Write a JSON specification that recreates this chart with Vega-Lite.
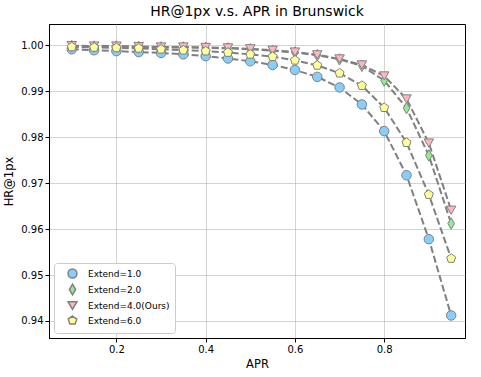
{
  "$schema": "https://vega.github.io/schema/vega-lite/v6.json",
  "width": 416,
  "height": 314,
  "autosize": {"type": "none"},
  "padding": {"left": 49, "top": 24, "right": 16, "bottom": 39},
  "config": {
    "font": "DejaVu Sans",
    "view": {"stroke": "black", "strokeWidth": 1},
    "axis": {
      "labelFont": "DejaVu Sans", "titleFont": "DejaVu Sans",
      "labelFontSize": 10, "titleFontSize": 11.5, "titleFontWeight": "normal",
      "labelColor": "black", "titleColor": "black",
      "domainColor": "black", "tickColor": "black", "tickSize": 4,
      "gridColor": "#b0b0b0", "gridWidth": 0.8, "gridOpacity": 0.7
    }
  },
  "title": {"text": "HR@1px v.s. APR in Brunswick", "fontSize": 14, "fontWeight": "normal", "font": "DejaVu Sans", "offset": 5},
  "data": {"values": [
    {"APR":0.10,"HR":0.9991,"Extend":"Extend=1.0"},{"APR":0.15,"HR":0.9989,"Extend":"Extend=1.0"},{"APR":0.20,"HR":0.9987,"Extend":"Extend=1.0"},{"APR":0.25,"HR":0.9985,"Extend":"Extend=1.0"},{"APR":0.30,"HR":0.9983,"Extend":"Extend=1.0"},{"APR":0.35,"HR":0.9980,"Extend":"Extend=1.0"},{"APR":0.40,"HR":0.9976,"Extend":"Extend=1.0"},{"APR":0.45,"HR":0.9971,"Extend":"Extend=1.0"},{"APR":0.50,"HR":0.9965,"Extend":"Extend=1.0"},{"APR":0.55,"HR":0.9957,"Extend":"Extend=1.0"},{"APR":0.60,"HR":0.9946,"Extend":"Extend=1.0"},{"APR":0.65,"HR":0.9931,"Extend":"Extend=1.0"},{"APR":0.70,"HR":0.9908,"Extend":"Extend=1.0"},{"APR":0.75,"HR":0.9871,"Extend":"Extend=1.0"},{"APR":0.80,"HR":0.9813,"Extend":"Extend=1.0"},{"APR":0.85,"HR":0.9717,"Extend":"Extend=1.0"},{"APR":0.90,"HR":0.9578,"Extend":"Extend=1.0"},{"APR":0.95,"HR":0.9412,"Extend":"Extend=1.0"},
    {"APR":0.10,"HR":0.9998,"Extend":"Extend=2.0"},{"APR":0.15,"HR":0.9997,"Extend":"Extend=2.0"},{"APR":0.20,"HR":0.9997,"Extend":"Extend=2.0"},{"APR":0.25,"HR":0.9996,"Extend":"Extend=2.0"},{"APR":0.30,"HR":0.9995,"Extend":"Extend=2.0"},{"APR":0.35,"HR":0.9995,"Extend":"Extend=2.0"},{"APR":0.40,"HR":0.9994,"Extend":"Extend=2.0"},{"APR":0.45,"HR":0.9993,"Extend":"Extend=2.0"},{"APR":0.50,"HR":0.9991,"Extend":"Extend=2.0"},{"APR":0.55,"HR":0.9988,"Extend":"Extend=2.0"},{"APR":0.60,"HR":0.9984,"Extend":"Extend=2.0"},{"APR":0.65,"HR":0.9978,"Extend":"Extend=2.0"},{"APR":0.70,"HR":0.9969,"Extend":"Extend=2.0"},{"APR":0.75,"HR":0.9955,"Extend":"Extend=2.0"},{"APR":0.80,"HR":0.9923,"Extend":"Extend=2.0"},{"APR":0.85,"HR":0.9863,"Extend":"Extend=2.0"},{"APR":0.90,"HR":0.9760,"Extend":"Extend=2.0"},{"APR":0.95,"HR":0.9612,"Extend":"Extend=2.0"},
    {"APR":0.10,"HR":0.9999,"Extend":"Extend=4.0(Ours)"},{"APR":0.15,"HR":0.9998,"Extend":"Extend=4.0(Ours)"},{"APR":0.20,"HR":0.9998,"Extend":"Extend=4.0(Ours)"},{"APR":0.25,"HR":0.9997,"Extend":"Extend=4.0(Ours)"},{"APR":0.30,"HR":0.9996,"Extend":"Extend=4.0(Ours)"},{"APR":0.35,"HR":0.9996,"Extend":"Extend=4.0(Ours)"},{"APR":0.40,"HR":0.9995,"Extend":"Extend=4.0(Ours)"},{"APR":0.45,"HR":0.9994,"Extend":"Extend=4.0(Ours)"},{"APR":0.50,"HR":0.9992,"Extend":"Extend=4.0(Ours)"},{"APR":0.55,"HR":0.9989,"Extend":"Extend=4.0(Ours)"},{"APR":0.60,"HR":0.9985,"Extend":"Extend=4.0(Ours)"},{"APR":0.65,"HR":0.9979,"Extend":"Extend=4.0(Ours)"},{"APR":0.70,"HR":0.9970,"Extend":"Extend=4.0(Ours)"},{"APR":0.75,"HR":0.9957,"Extend":"Extend=4.0(Ours)"},{"APR":0.80,"HR":0.9933,"Extend":"Extend=4.0(Ours)"},{"APR":0.85,"HR":0.9883,"Extend":"Extend=4.0(Ours)"},{"APR":0.90,"HR":0.9787,"Extend":"Extend=4.0(Ours)"},{"APR":0.95,"HR":0.9641,"Extend":"Extend=4.0(Ours)"},
    {"APR":0.10,"HR":0.9996,"Extend":"Extend=6.0"},{"APR":0.15,"HR":0.9995,"Extend":"Extend=6.0"},{"APR":0.20,"HR":0.9994,"Extend":"Extend=6.0"},{"APR":0.25,"HR":0.9993,"Extend":"Extend=6.0"},{"APR":0.30,"HR":0.9991,"Extend":"Extend=6.0"},{"APR":0.35,"HR":0.9989,"Extend":"Extend=6.0"},{"APR":0.40,"HR":0.9987,"Extend":"Extend=6.0"},{"APR":0.45,"HR":0.9984,"Extend":"Extend=6.0"},{"APR":0.50,"HR":0.9980,"Extend":"Extend=6.0"},{"APR":0.55,"HR":0.9975,"Extend":"Extend=6.0"},{"APR":0.60,"HR":0.9967,"Extend":"Extend=6.0"},{"APR":0.65,"HR":0.9956,"Extend":"Extend=6.0"},{"APR":0.70,"HR":0.9939,"Extend":"Extend=6.0"},{"APR":0.75,"HR":0.9912,"Extend":"Extend=6.0"},{"APR":0.80,"HR":0.9864,"Extend":"Extend=6.0"},{"APR":0.85,"HR":0.9788,"Extend":"Extend=6.0"},{"APR":0.90,"HR":0.9675,"Extend":"Extend=6.0"},{"APR":0.95,"HR":0.9536,"Extend":"Extend=6.0"}
  ]},
  "encoding": {
    "x": {"field": "APR", "type": "quantitative", "title": "APR",
      "scale": {"domain": [0.049, 0.981], "nice": false, "zero": false},
      "axis": {"values": [0.2, 0.4, 0.6, 0.8], "format": ".1f", "titlePadding": 4}},
    "y": {"field": "HR", "type": "quantitative", "title": "HR@1px",
      "scale": {"domain": [0.9363, 1.0046], "nice": false, "zero": false},
      "axis": {"values": [0.94, 0.95, 0.96, 0.97, 0.98, 0.99, 1.0], "format": ".2f", "titlePadding": 6}}
  },
  "layer": [
    {
      "mark": {"type": "line", "stroke": "gray", "strokeWidth": 2, "strokeDash": [7, 3], "clip": true},
      "encoding": {"detail": {"field": "Extend", "type": "nominal"}}
    },
    {
      "mark": {"type": "point", "filled": true, "stroke": "gray", "strokeWidth": 1, "size": 90, "opacity": 1},
      "encoding": {
        "fill": {"field": "Extend", "type": "nominal",
          "scale": {"domain": ["Extend=1.0", "Extend=2.0", "Extend=4.0(Ours)", "Extend=6.0"],
                    "range": ["#87cefa", "#90ee90", "#ffb6c1", "#ffff99"]},
          "legend": {"title": null}},
        "shape": {"field": "Extend", "type": "nominal",
          "scale": {"domain": ["Extend=1.0", "Extend=2.0", "Extend=4.0(Ours)", "Extend=6.0"],
                    "range": ["circle", "M0,-1.2L0.7,0L0,1.2L-0.7,0Z", "triangle-down", "M0,-1L0.951,-0.309L0.588,0.809L-0.588,0.809L-0.951,-0.309Z"]},
          "legend": {"title": null, "orient": "bottom-left", "offset": 5, "fillColor": "white", "strokeColor": "#cccccc",
            "padding": 5, "cornerRadius": 3, "labelFontSize": 9, "labelFont": "DejaVu Sans", "labelColor": "black",
            "symbolSize": 80, "rowPadding": 0, "symbolOffset": 8, "labelOffset": 10,
            "encode": {"symbols": {"update": {"stroke": {"value": "gray"}, "strokeWidth": {"value": 1}}}}}}
      }
    }
  ]
}
